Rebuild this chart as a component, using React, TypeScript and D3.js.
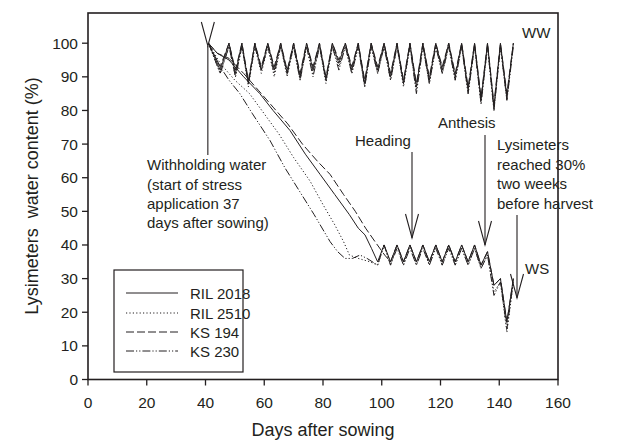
import React from "react";
import * as d3 from "d3";

const X_TICKS = [0, 20, 40, 60, 80, 100, 120, 140, 160];
const Y_TICKS = [0, 10, 20, 30, 40, 50, 60, 70, 80, 90, 100];

// Well-watered (WW) irrigation cycles: shared days
const WW_DAYS = [41, 45, 48, 50.2, 52.4, 54.6, 56.8, 59, 61.2, 63.4, 65.6, 67.8, 70, 72.2, 74.4, 76.6, 78.8, 81, 83.2, 85.4, 87.6, 89.8, 92, 94.2, 96.4, 98.6, 100.8, 103, 105.2, 107.4, 109.6, 111.8, 114, 116.2, 118.4, 120.6, 122.8, 125, 127.2, 129.4, 131.6, 133.8, 136, 138.2, 140.4, 142.6, 144.8];
const WW_RIL2018 = [100, 92, 100, 91, 100, 88, 100, 92, 100, 92, 100, 91, 100, 90, 100, 92, 100, 89, 100, 94, 100, 92, 100, 88, 100, 92, 100, 90, 100, 88, 100, 87, 100, 89, 100, 92, 100, 90, 100, 86, 100, 83, 100, 81, 100, 84, 100];
const WW_RIL2510 = [100, 91, 99, 90, 99, 87, 99, 91, 99, 90, 99, 90, 99, 89, 99, 91, 99, 88, 99, 93, 99, 91, 99, 87, 99, 91, 99, 89, 99, 87, 99, 86, 99, 88, 99, 91, 99, 89, 99, 85, 99, 82, 99, 80, 99, 83, 100];
const WW_KS194 = [100, 93, 100, 92, 100, 89, 100, 93, 100, 93, 100, 92, 100, 91, 100, 93, 100, 90, 100, 95, 100, 93, 100, 89, 100, 93, 100, 91, 100, 89, 100, 88, 100, 90, 100, 93, 100, 91, 100, 87, 100, 84, 100, 82, 100, 85, 100];
const WW_KS230 = [100, 91, 99, 90, 99, 88, 99, 92, 99, 91, 99, 91, 99, 89, 99, 90, 99, 89, 99, 92, 99, 91, 99, 87, 99, 91, 99, 89, 99, 88, 99, 85, 99, 88, 99, 91, 99, 89, 99, 85, 99, 82, 99, 80, 99, 83, 99];

// Water-stressed (WS): dry-down after withholding water
const WS_DOWN_DAYS_RIL2018 = [41, 44, 48, 53, 58.5, 63, 68.8, 74, 79, 84, 89, 92, 94.3, 96.5];
const WS_DOWN_RIL2018 = [100, 97, 95, 90, 85, 80, 74, 67, 61, 55, 49, 45, 43, 39];
const WS_DOWN_DAYS_RIL2510 = [41, 45, 50, 55, 60, 65, 70, 75.6, 80, 84, 87, 89, 92, 96];
const WS_DOWN_RIL2510 = [100, 94, 89, 85, 79, 73, 66, 59, 52, 46, 41, 37, 36, 35];
const WS_DOWN_DAYS_KS194 = [41, 44, 48, 53, 58, 63, 68, 73, 78, 82.4, 87, 91, 94.5, 97.7, 101];
const WS_DOWN_KS194 = [100, 97, 95.5, 91, 86, 81, 76, 70, 65, 61, 55, 50, 45, 41, 37];
const WS_DOWN_DAYS_KS230 = [41, 45, 48, 51.7, 56, 62, 67, 72, 77, 82.4, 85, 87.5, 90, 92.6, 95];
const WS_DOWN_KS230 = [100, 93, 89, 85, 79, 71, 63, 56, 49, 41, 38, 36, 36, 37, 36];

// WS cycles at ~35-40 %, then final drop
const WS_CYCLE_DAYS = [98.6, 100.8, 103, 105.2, 107.4, 109.6, 111.8, 114, 116.2, 118.4, 120.6, 122.8, 125, 127.2, 129.4, 131.6, 133.8, 136, 138.2, 140.4, 142.6, 144.8];
const WS_CYCLE_RIL2018 = [35, 40, 35, 40, 35, 40, 35, 40, 35, 40, 35, 40, 35, 40, 35, 40, 34, 38, 28, 30, 17, 30];
const WS_CYCLE_RIL2510 = [34, 40, 34, 40, 34, 40, 34, 40, 34, 40, 34, 40, 34, 39, 34, 39, 33, 37, 26, 29, 14, 29];
const WS_CYCLE_KS194 = [35, 40, 35, 40, 35, 40, 35, 40, 35, 40, 35, 40, 35, 40, 35, 40, 34, 38, 28, 30, 17, 30];
const WS_CYCLE_KS230 = [34, 40, 34, 39, 34, 39, 34, 39, 34, 39, 34, 39, 34, 39, 34, 39, 33, 37, 25, 29, 15, 29];

const GENOTYPES = ["RIL 2018", "RIL 2510", "KS 194", "KS 230"];
const DASHES = ["none", "1.2 2.2", "8 3", "8 2 1.2 2 1.2 2"];

const FONT = "'Liberation Sans', Arial, Helvetica, sans-serif";
const INK = "#231f20";

const W = 640, H = 441;
const X0 = 88, X1 = 558, YTOP = 13, YBOT = 379.5;

export default function App() {
  const x = d3.scaleLinear().domain([0, 160]).range([X0, X1]);
  const y = d3.scaleLinear().domain([0, 100]).range([YBOT, 43.2]);
  const line = d3.line<[number, number]>().x((d) => x(d[0])).y((d) => y(d[1]));
  const zip = (a: number[], b: number[]) => a.map((d, i) => [d, b[i]] as [number, number]);

  const ww = [WW_RIL2018, WW_RIL2510, WW_KS194, WW_KS230];
  const wsDown = [
    zip(WS_DOWN_DAYS_RIL2018, WS_DOWN_RIL2018),
    zip(WS_DOWN_DAYS_RIL2510, WS_DOWN_RIL2510),
    zip(WS_DOWN_DAYS_KS194, WS_DOWN_KS194),
    zip(WS_DOWN_DAYS_KS230, WS_DOWN_KS230),
  ];
  const wsCycle = [WS_CYCLE_RIL2018, WS_CYCLE_RIL2510, WS_CYCLE_KS194, WS_CYCLE_KS230];
  const wsSeries = wsDown.map((pts, i) => {
    const last = pts[pts.length - 1][0];
    return [...pts, ...zip(WS_CYCLE_DAYS, wsCycle[i]).filter((p) => p[0] > last)];
  });

  const arrow = (ax: number, y1: number, y2: number, key: string) => (
    <g key={key} stroke={INK} strokeWidth={1.1} fill="none">
      <line x1={ax} y1={y1} x2={ax} y2={y2} />
      <polyline points={`${ax - 6.5},${y2 - 24} ${ax},${y2} ${ax + 6.5},${y2 - 24}`} />
    </g>
  );

  const legendRows = [293, 313, 332, 351];

  return (
    <svg width={W} height={H} style={{ position: "absolute", left: 0, top: 0, background: "#fff" }} fontFamily={FONT}>
      <rect x={0} y={0} width={W} height={H} fill="#fff" />
      {/* data */}
      <g fill="none" stroke={INK} strokeWidth={1}>
        {ww.map((vals, i) => (
          <path key={"ww" + i} d={line(zip(WW_DAYS, vals)) || ""} strokeDasharray={DASHES[i]} />
        ))}
        {wsSeries.map((pts, i) => (
          <path key={"ws" + i} d={line(pts) || ""} strokeDasharray={DASHES[i]} />
        ))}
      </g>
      {/* frame */}
      <rect x={X0} y={YTOP} width={X1 - X0} height={YBOT - YTOP} fill="none" stroke={INK} strokeWidth={1.6} />
      {/* y ticks */}
      {Y_TICKS.map((t) => (
        <g key={"y" + t}>
          <line x1={X0 - 6} x2={X0} y1={y(t)} y2={y(t)} stroke={INK} strokeWidth={1.3} />
          <text x={X0 - 10} y={y(t) + 5.5} textAnchor="end" fontSize={15.5} fill={INK}>{t}</text>
        </g>
      ))}
      {/* x ticks */}
      {X_TICKS.map((t) => (
        <g key={"x" + t}>
          <line x1={x(t)} x2={x(t)} y1={YBOT} y2={YBOT + 6} stroke={INK} strokeWidth={1.3} />
          <text x={x(t)} y={408} textAnchor="middle" fontSize={15.5} fill={INK}>{t}</text>
        </g>
      ))}
      <text x={(X0 + X1) / 2} y={436} textAnchor="middle" fontSize={18} fill={INK}>Days after sowing</text>
      <text transform={`translate(38,196) rotate(-90)`} textAnchor="middle" fontSize={18} fill={INK} style={{ whiteSpace: "pre" }}>
        {"Lysimeters  water content (%)"}
      </text>

      {/* annotations */}
      {arrow(x(40.8), 155, 46, "a1")}
      <g fontSize={15} fill={INK}>
        <text x={147} y={170}>Withholding water</text>
        <text x={147} y={190}>(start of stress</text>
        <text x={147} y={209}>application 37</text>
        <text x={147} y={228}>days after sowing)</text>
      </g>
      {arrow(412, 152, 238, "a2")}
      <text x={355} y={146} fontSize={15} fill={INK}>Heading</text>
      {arrow(485, 135, 245, "a3")}
      <text x={438} y={128} fontSize={15} fill={INK}>Anthesis</text>
      {arrow(517, 215, 298, "a4")}
      <g fontSize={15} fill={INK}>
        <text x={497} y={150}>Lysimeters</text>
        <text x={497} y={170}>reached 30%</text>
        <text x={497} y={189}>two weeks</text>
        <text x={497} y={209}>before harvest</text>
      </g>
      <text x={522} y={38} fontSize={15} fill={INK}>WW</text>
      <text x={525} y={274} fontSize={15} fill={INK}>WS</text>

      {/* legend */}
      <rect x={114} y={270} width={129} height={102} fill="#fff" stroke={INK} strokeWidth={1.2} />
      {GENOTYPES.map((g, i) => (
        <g key={g}>
          <line x1={126} x2={178} y1={legendRows[i]} y2={legendRows[i]} stroke={INK} strokeWidth={1} strokeDasharray={DASHES[i]} />
          <text x={190} y={legendRows[i] + 5.5} fontSize={15} fill={INK}>{g}</text>
        </g>
      ))}
    </svg>
  );
}
